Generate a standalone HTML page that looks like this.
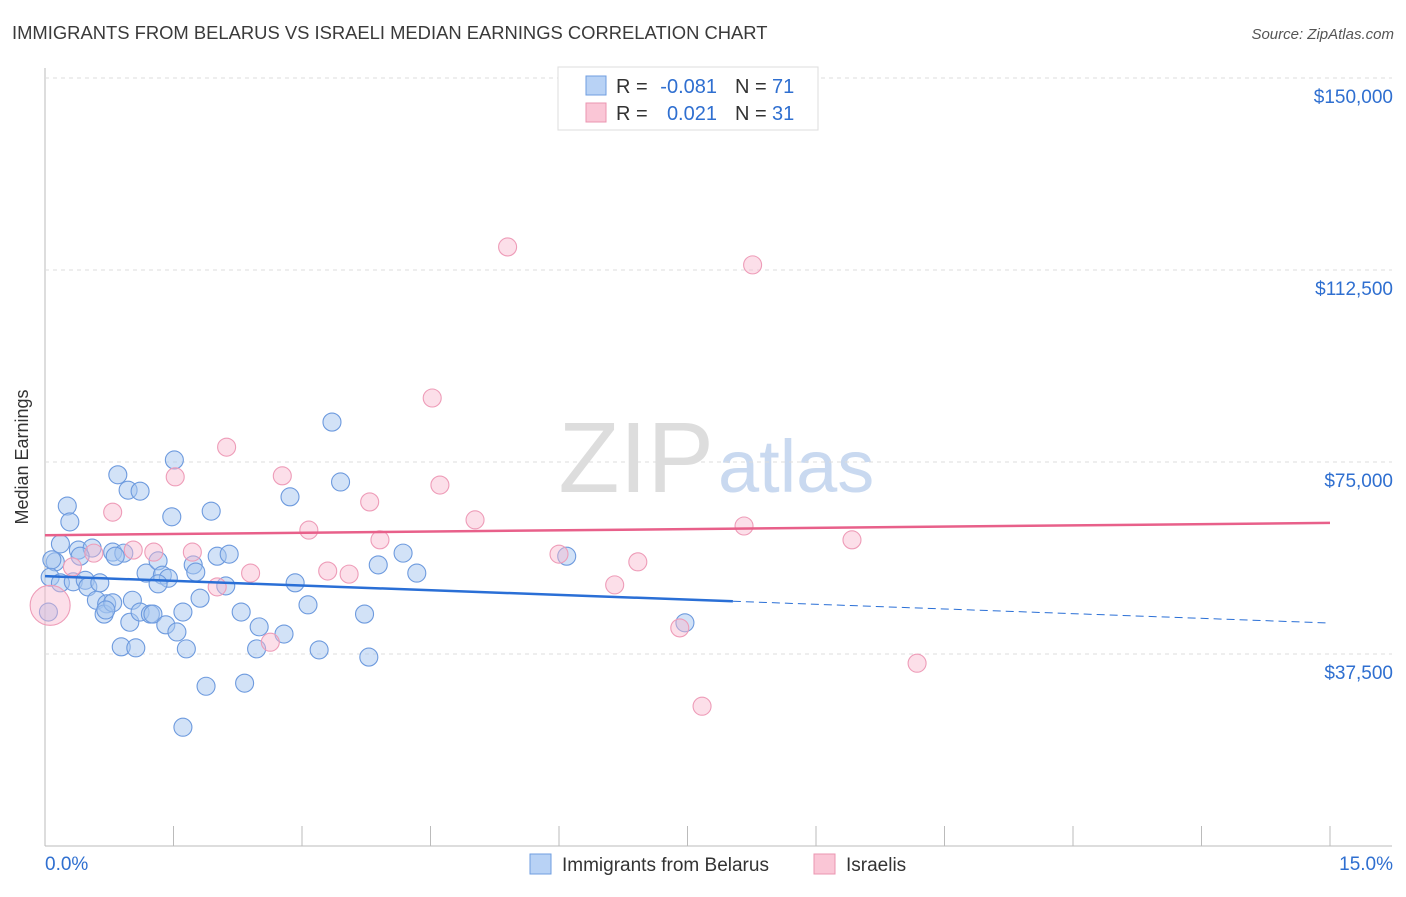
<!DOCTYPE html>
<html><head><meta charset="utf-8"><style>
body{margin:0;background:#fff;font-family:"Liberation Sans",sans-serif;}
svg text{font-family:"Liberation Sans",sans-serif;}
</style></head><body>
<svg id="c" width="1406" height="892">
<text x="12" y="39" font-size="18.4" fill="#3a3a3a">IMMIGRANTS FROM BELARUS VS ISRAELI MEDIAN EARNINGS CORRELATION CHART</text>
<text x="1394" y="39" font-size="15" fill="#555" text-anchor="end" font-style="italic">Source: ZipAtlas.com</text>
<text x="28" y="457" font-size="18" fill="#333" text-anchor="middle" transform="rotate(-90 28 457)">Median Earnings</text>
<text x="714" y="492" font-size="100" fill="#ddd" text-anchor="end" font-family="Liberation Serif">ZIP</text>
<text x="718" y="492" font-size="74" fill="#c9d9f0">atlas</text>
<g id="grid"></g><g id="pts"></g><g id="lines"></g>
<g>
<rect x="558" y="67" width="260" height="63" fill="#fff" stroke="#ddd"/>
<rect x="586" y="76" width="20" height="19" fill="#b8d2f5" stroke="#6f9ee0"/>
<rect x="586" y="103" width="20" height="19" fill="#fac6d6" stroke="#eb95b0"/>
<text x="616" y="93" font-size="20" fill="#333">R =</text>
<text x="717" y="93" font-size="20" fill="#2f6fd0" text-anchor="end">-0.081</text>
<text x="735" y="93" font-size="20" fill="#333">N =</text>
<text x="772" y="93" font-size="20" fill="#2f6fd0">71</text>
<text x="616" y="120" font-size="20" fill="#333">R =</text>
<text x="717" y="120" font-size="20" fill="#2f6fd0" text-anchor="end">0.021</text>
<text x="735" y="120" font-size="20" fill="#333">N =</text>
<text x="772" y="120" font-size="20" fill="#2f6fd0">31</text>
</g>
<g>
<rect x="530" y="854" width="21" height="20" fill="#b8d2f5" stroke="#6f9ee0"/>
<text x="562" y="871" font-size="19" fill="#333">Immigrants from Belarus</text>
<rect x="814" y="854" width="21" height="20" fill="#fac6d6" stroke="#eb95b0"/>
<text x="846" y="871" font-size="19" fill="#333">Israelis</text>
</g>
</svg>
<script>
const xTicks=[0,1.5,3,4.5,6,7.5,9,10.5,12,13.5,15];
const yTicks=[37500,75000,112500,150000];
const yTickLabels=["$37,500","$75,000","$112,500","$150,000"];
const belarusX=[0.26,0.29,0.85,0.97,1.11,1.51,1.48,1.94,0.18,0.39,0.55,0.41,0.12,0.06,0.18,0.33,0.47,0.50,0.64,0.60,0.72,0.69,0.79,0.79,0.92,1.02,0.99,1.11,1.23,1.26,1.18,1.32,1.37,1.44,1.32,1.41,1.54,1.61,1.65,1.73,1.76,1.81,1.88,2.01,2.15,2.11,2.29,2.33,2.50,2.47,2.79,2.92,2.86,3.07,3.20,3.35,3.45,3.73,3.78,3.89,4.18,4.34,6.09,7.47,1.61,0.89,1.06,0.04,0.08,0.82,0.71];
const belarusY=[66400,63300,72500,69500,69300,75400,64300,65400,59000,57800,58200,56600,55500,52500,51400,51600,51900,50600,51400,48000,47300,45300,47500,57400,57200,48000,43700,45700,45300,45300,53300,55700,52900,52300,51200,43200,41800,45700,38500,54900,53500,48400,31200,56600,57000,50800,45700,31800,42800,38500,41400,51400,68200,47100,38300,82800,71100,45300,36900,54900,57200,53300,56600,43600,23200,38900,38700,45700,55900,56600,46100];
const israelX=[5.40,8.26,4.52,2.12,1.52,2.77,4.61,0.79,3.79,5.02,3.08,3.91,8.16,9.42,1.03,1.27,1.72,0.57,0.32,2.40,3.30,3.55,6.00,6.92,6.65,2.01,7.41,2.63,10.18,7.67,0.06];
const israelY=[117000,113500,87500,77900,72100,72300,70500,65200,67200,63700,61700,59800,62500,59800,57800,57400,57400,57200,54500,53300,53700,53100,57000,55500,51000,50600,42600,39800,35700,27300,47000];
const belarusTrend=[52700,43550];
const israelTrend=[60700,63100];
const belarusSolidEnd=[8.03];

const X=v=>45+v*(1285/15), Y=v=>846-v*(192/37500);
const NS="http://www.w3.org/2000/svg";
function mk(t,a,p){const e=document.createElementNS(NS,t);for(const k in a)e.setAttribute(k,a[k]);p.appendChild(e);return e;}
const grid=document.getElementById('grid'),pts=document.getElementById('pts'),lines=document.getElementById('lines');
let ax=mk('line',{x1:45,y1:68,x2:45,y2:846,stroke:'#bbb'},grid);


let bx=mk('line',{x1:45,y1:846,x2:1392,y2:846,stroke:'#bbb'},grid);


let tg=mk('line',{x1:45,y1:Y(150000),x2:1392,y2:Y(150000),stroke:'#ddd','stroke-dasharray':'4 4'},grid);


yTicks.forEach((v,i)=>{
 const g=mk('line',{x1:45,y1:Y(v),x2:1392,y2:Y(v),stroke:'#ddd','stroke-dasharray':'4 4'},grid);
 
 
 const t=mk('text',{x:1393,y:Y(v)+25,'font-size':19,fill:'#2f6fd0','text-anchor':'end'},grid);
 t.textContent=yTickLabels[i];
 
 
});
xTicks.forEach((v,i)=>{
 if(i==0)return;
 const l=mk('line',{x1:X(v),y1:826,x2:X(v),y2:846,stroke:'#bbb'},grid);
 
 
});
[[0,'0.0%','start',45],[15,'15.0%','end',1393]].forEach(a=>{
 const t=mk('text',{x:a[3],y:870,'font-size':19,fill:'#2f6fd0','text-anchor':a[2]},grid);
 t.textContent=a[1];
 
 
});
belarusX.forEach((x,i)=>{
 const c=mk('circle',{cx:X(x),cy:Y(belarusY[i]),r:9,fill:'rgba(165,198,240,0.5)',stroke:'#6d9ade','stroke-width':1.1},pts);
 
 
});
israelX.forEach((x,i)=>{
 const c=mk('circle',{cx:X(x),cy:Y(israelY[i]),r:i==israelX.length-1?20:9,fill:'rgba(248,185,206,0.45)',stroke:'#ee9cb8','stroke-width':1.1},pts);
 
 
});
const bAt=x=>belarusTrend[0]+(belarusTrend[1]-belarusTrend[0])*x/15;
let l1=mk('line',{x1:X(0),y1:Y(bAt(0)),x2:X(belarusSolidEnd[0]),y2:Y(bAt(belarusSolidEnd[0])),stroke:'#2a6fd6','stroke-width':2.5},lines);


let l2=mk('line',{x1:X(belarusSolidEnd[0]),y1:Y(bAt(belarusSolidEnd[0])),x2:X(15),y2:Y(bAt(15)),stroke:'#2a6fd6','stroke-width':1,'stroke-dasharray':'8 5'},lines);


let l3=mk('line',{x1:X(0),y1:Y(israelTrend[0]),x2:X(15),y2:Y(israelTrend[1]),stroke:'#e8608a','stroke-width':2.5},lines);


</script>
</body></html>
